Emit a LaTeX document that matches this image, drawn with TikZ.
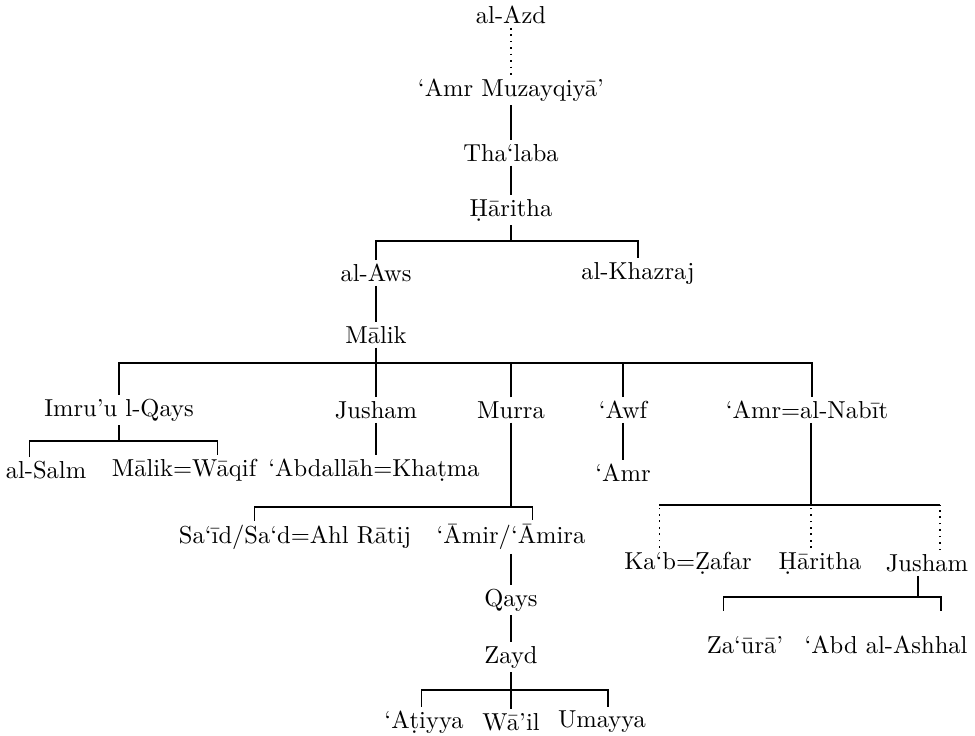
\documentclass[tikz,border=0pt]{standalone}
\usepackage{tikz}
\usetikzlibrary{positioning}

\begin{document}
\begin{tikzpicture}[
  x=0.42pt, y=-0.42pt,
  person/.style={inner sep=1.5pt, font=\fontsize{10.3pt}{12pt}\selectfont},
  line/.style={line width=0.7pt},
  link/.style={line width=0.7pt, dotted}
]
\useasboundingbox (0,0) rectangle (975,735);
% upper line
\node[person] (azd)     at (511,15)  {al-Azd};
\node[person] (muz)     at (511,90)  {‘Amr Muzayqiyā’};
\node[person] (thalaba) at (511,153) {Tha‘laba};
\node[person] (haritha) at (511,210) {Ḥāritha};
\node[person] (aws)     at (376,273) {al-Aws};
\node[person] (khazraj) at (638,273) {al-Khazraj};
\node[person] (malik)   at (376,335) {Mālik};
% sons of Malik
\node[person] (imru)    at (119,410) {Imru’u l-Qays};
\node[person] (jusham)  at (376,410) {Jusham};
\node[person] (murra)   at (511,410) {Murra};
\node[person] (awf)     at (623,410) {‘Awf};
\node[person] (nabit)   at (807,410) {‘Amr=al-Nabīt};
\node[person] (salm)    at (46,470)  {al-Salm};
\node[person] (wakif)   at (184,470) {Mālik=Wāqif};
\node[person] (abdallah) at (374,470) {‘Abdallāh=Khaṭma};
\node[person] (amr)     at (623,473) {‘Amr};
% Murra
\node[person] (said)    at (295,537) {Sa‘īd/Sa‘d=Ahl Rātij};
\node[person] (amir)    at (511,537) {‘Āmir/‘Āmira};
\node[person] (qays)    at (511,600) {Qays};
\node[person] (zayd)    at (511,657) {Zayd};
\node[person] (atiyya)  at (424,722) {‘Aṭiyya};
\node[person] (wail)    at (511,722) {Wā’il};
\node[person] (umayya)  at (602,722) {Umayya};
% al-Nabit
\node[person] (kaab)    at (688,563) {Ka‘b=Ẓafar};
\node[person] (haritha2) at (820,563) {Ḥāritha};
\node[person] (jusham2) at (927,563) {Jusham};
\node[person] (zaura)   at (745,645) {Za‘ūrā’};
\node[person] (ashhal)  at (886,645) {‘Abd al-Ashhal};
% bracket points
\coordinate (hb) at (511,241);
\coordinate (mb) at (376,363);
\coordinate (ib) at (119,441);
\coordinate (rb) at (511,507);
\coordinate (zb) at (511,690);
\coordinate (nb) at (811,505);
\coordinate (jb) at (918,597);

\draw[link] (azd) -- (muz);
\draw[line] (muz) -- (thalaba);
\draw[line] (thalaba) -- (haritha);
\draw[line] (haritha) -- (hb);
\draw[line] (aws) |- (hb) -| (khazraj);
\draw[line] (aws) -- (malik);
\draw[line] (malik) -- (mb);
\draw[line] (imru) |- (mb) -| ([xshift=2pt]nabit.north);
\draw[line] (jusham) -- (jusham |- mb);
\draw[line] (murra) -- (murra |- mb);
\draw[line] (awf) -- (awf |- mb);
\draw[line] (imru) -- (ib);
\draw[line] ([xshift=-7pt]salm.north) |- (ib) -| ([xshift=14pt]wakif.north);
\draw[line] (jusham) -- (jusham |- abdallah.north);
\draw[line] (awf) -- (amr);
\draw[line] (murra) -- (rb);
\draw[line] ([xshift=-17pt]said.north) |- (rb) -| ([xshift=9pt]amir.north);
\draw[line] (amir) -- (qays);
\draw[line] (qays) -- (zayd);
\draw[line] (zayd) -- (wail);
\draw[line] ([xshift=-1pt]atiyya.north) |- (zb) -| ([xshift=2.5pt]umayya.north);
\draw[line] (nabit.south -| nb) -- (nb);
\draw[line] ([xshift=-12pt]kaab.north |- nb) -- ([xshift=5.5pt]jusham2.north |- nb);
\draw[link] ([xshift=-12pt]kaab.north) -- ([xshift=-12pt]kaab.north |- nb);
\draw[link] (haritha2.north -| nb) -- (nb);
\draw[link] ([xshift=5.5pt]jusham2.north) -- ([xshift=5.5pt]jusham2.north |- nb);
\draw[line] (jusham2.south -| jb) -- (jb);
\draw[line] ([xshift=-9pt,yshift=9pt]zaura.north) |- (jb) -| ([xshift=23pt,yshift=9pt]ashhal.north);
\end{tikzpicture}
\end{document}
